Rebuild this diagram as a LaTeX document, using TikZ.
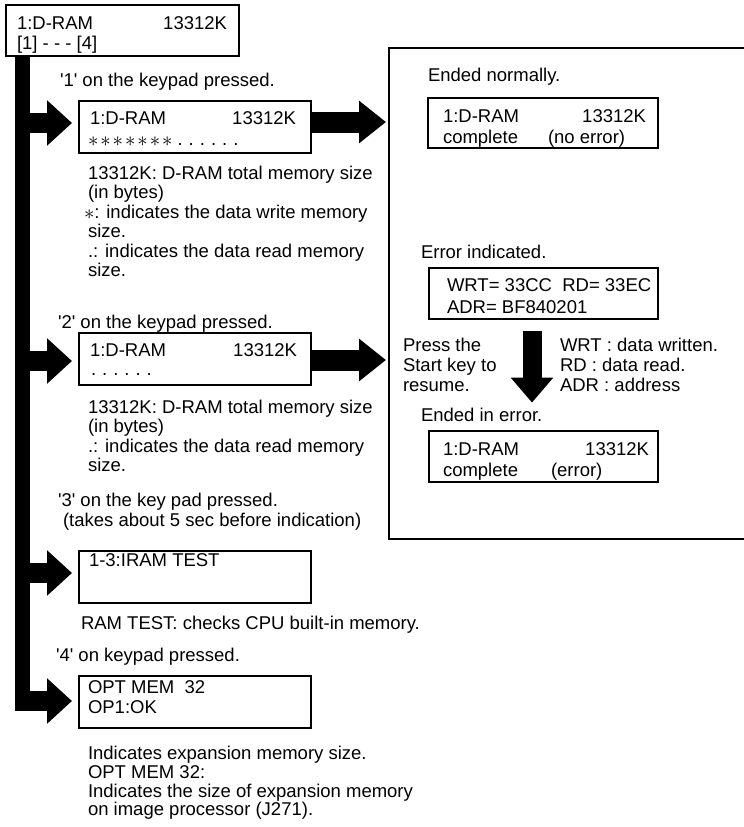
\documentclass[tikz,border=0pt]{standalone}
\usepackage{fontspec}
\setmainfont{Liberation Sans}
\usetikzlibrary{arrows.meta}
\newcommand\fsz{\fontsize{18.5pt}{19.5pt}\selectfont}
\newcommand\qt{\textquotesingle}
\newcommand\bstar{\smash{\raisebox{-1.5pt}{\fontsize{20pt}{20pt}\selectfont$\ast$}}}
\newcommand\stars{\bstar\kern2pt\bstar\kern2pt\bstar\kern2pt\bstar\kern2pt\bstar\kern2pt\bstar\kern2pt\bstar}
\newcommand\rdots{.\kern6pt.\kern6pt.\kern6pt.\kern6pt.\kern6pt.}
\begin{document}
\begin{tikzpicture}[x=1pt,y=-1pt,
  lcd/.style={draw, line width=2.3pt, inner sep=0pt, outer sep=0pt, anchor=north west},
  txt/.style={anchor=base west, inner sep=0pt, outer sep=0pt, font=\fsz},
  txr/.style={anchor=base east, inner sep=0pt, outer sep=0pt, font=\fsz},
  trunkline/.style={line width=15pt},
  branch/.style={line width=20pt, -{Triangle[length=25pt,width=44pt]}},
  bigarrow/.style={line width=21pt, -{Triangle[length=27pt,width=41pt]}},
  downarrow/.style={line width=19pt, -{Triangle[length=25pt,width=41pt]}},
  panelline/.style={line width=2pt}
]
\useasboundingbox (0,0) rectangle (744,827);

% ---- top box
\node[lcd, line width=2.6pt, minimum width=233pt, minimum height=51pt] (top) at (6,5) {};
\node[txt] (t0a) at (17,29) {1:D-RAM};
\node[txr] (t0b) at (227,29) {13312K};
\node[txt] (t0c) at (17,49) {[1] - - - [4]};

% ---- key 1
\node[txt] (k1) at (60,86) {\qt1\qt{} on the keypad pressed.};
\node[lcd, minimum width=232pt, minimum height=52pt] (b1) at (79,101) {};
\node[txt] (b1a) at (90,124) {1:D-RAM};
\node[txr] (b1b) at (296,124) {13312K};
\node[txt] (b1c) at (88,145) {\stars\kern5pt\rdots};
\node[txt] (d1a) at (88,179) {13312K: D-RAM total memory size};
\node[txt] (d1b) at (88,198.5) {(in bytes)};
\node[txt] (d1c) at (84,218) {\bstar: indicates the data write memory};
\node[txt] (d1d) at (88,237.5) {size.};
\node[txt] (d1e) at (88,257) {.: indicates the data read memory};
\node[txt] (d1f) at (88,276.5) {size.};

% ---- key 2
\node[txt] (k2) at (58,328) {\qt2\qt{} on the keypad pressed.};
\node[lcd, minimum width=232pt, minimum height=52pt] (b2) at (79,333) {};
\node[txt] (b2a) at (90,356) {1:D-RAM};
\node[txr] (b2b) at (297,356) {13312K};
\node[txt] (b2c) at (91,375) {\rdots};
\node[txt] (d2a) at (88,413) {13312K: D-RAM total memory size};
\node[txt] (d2b) at (88,432.5) {(in bytes)};
\node[txt] (d2c) at (88,452) {.: indicates the data read memory};
\node[txt] (d2d) at (88,471.5) {size.};

% ---- key 3
\node[txt] (k3a) at (58,506) {\qt3\qt{} on the key pad pressed.};
\node[txt] (k3b) at (63,526) {(takes about 5 sec before indication)};
\node[lcd, minimum width=232pt, minimum height=52pt] (b3) at (79,551) {};
\node[txt] (b3a) at (89,566) {1-3:IRAM TEST};
\node[txt] (d3a) at (81,629) {RAM TEST: checks CPU built-in memory.};

% ---- key 4
\node[txt] (k4) at (56,661) {\qt4\qt{} on keypad pressed.};
\node[lcd, minimum width=232pt, minimum height=52pt] (b4) at (79,676) {};
\node[txt] (b4a) at (88,693) {OPT MEM\ \ 32};
\node[txt] (b4b) at (88,713) {OP1:OK};
\node[txt] (d4a) at (88,759) {Indicates expansion memory size.};
\node[txt] (d4b) at (88,778) {OPT MEM 32:};
\node[txt] (d4c) at (88,797) {Indicates the size of expansion memory};
\node[txt] (d4d) at (88,815) {on image processor (J271).};

% ---- right panel
\node[anchor=north west, inner sep=0pt, outer sep=0pt, minimum width=360pt, minimum height=491pt] (panel) at (389,48) {};
\draw[panelline] (panel.north east) -- (panel.north west) -- (panel.south west) -- (panel.south east);

\node[txt] (p1) at (428,81) {Ended normally.};
\node[lcd, minimum width=230pt, minimum height=50pt] (nb) at (428,98) {};
\node[txt] (nba) at (443,122) {1:D-RAM};
\node[txr] (nbb) at (646,122) {13312K};
\node[txt] (nbc) at (443,143) {complete};
\node[txt] (nbd) at (548,143) {(no error)};

\node[txt] (p2) at (421,258) {Error indicated.};
\node[lcd, minimum width=229pt, minimum height=51pt] (eb) at (429,268) {};
\node[txt] (eba) at (447,291) {WRT= 33CC\ \ RD= 33EC};
\node[txt] (ebb) at (447,313) {ADR= BF840201};

\node[txt] (pr1) at (403,351) {Press the};
\node[txt] (pr2) at (403,371) {Start key to};
\node[txt] (pr3) at (403,391) {resume.};
\node[txt] (lg1) at (560,351) {WRT : data written.};
\node[txt] (lg2) at (560,371) {RD : data read.};
\node[txt] (lg3) at (560,391) {ADR : address};

\node[txt] (ee) at (421,421) {Ended in error.};
\node[lcd, minimum width=229pt, minimum height=51pt] (xb) at (429,431) {};
\node[txt] (xba) at (443,455) {1:D-RAM};
\node[txr] (xbb) at (649,455) {13312K};
\node[txt] (xbc) at (443,476) {complete};
\node[txt] (xbd) at (551,476) {(error)};

% ---- connectors
\coordinate (tx) at (22.5,0);
\coordinate (tbot) at (22.5,711);
\coordinate (r1) at (0,123);
\coordinate (r2) at (0,361);
\coordinate (r3) at (0,573);
\coordinate (c4) at (15,701);
\coordinate (q1) at (0,122);
\coordinate (q2) at (0,360);
\coordinate (dx) at (532,0);

\draw[trunkline] (top.south -| tx) -- (tbot);
\draw[branch, shorten >=7pt] (tx |- r1) -- (b1.west |- r1);
\draw[branch, shorten >=7pt] (tx |- r2) -- (b2.west |- r2);
\draw[branch, shorten >=7pt] (tx |- r3) -- (b3.west |- r3);
\draw[branch, shorten >=7pt] (c4) -- (b4.west |- c4);

\draw[bigarrow, shorten >=3pt] (b1.east |- q1) -- (panel.west |- q1);
\draw[bigarrow, shorten >=3pt] (b2.east |- q2) -- (panel.west |- q2);

\draw[downarrow, shorten <=12pt, shorten >=5pt] (eb.south -| dx) -- (ee.north -| dx);
\end{tikzpicture}
\end{document}
